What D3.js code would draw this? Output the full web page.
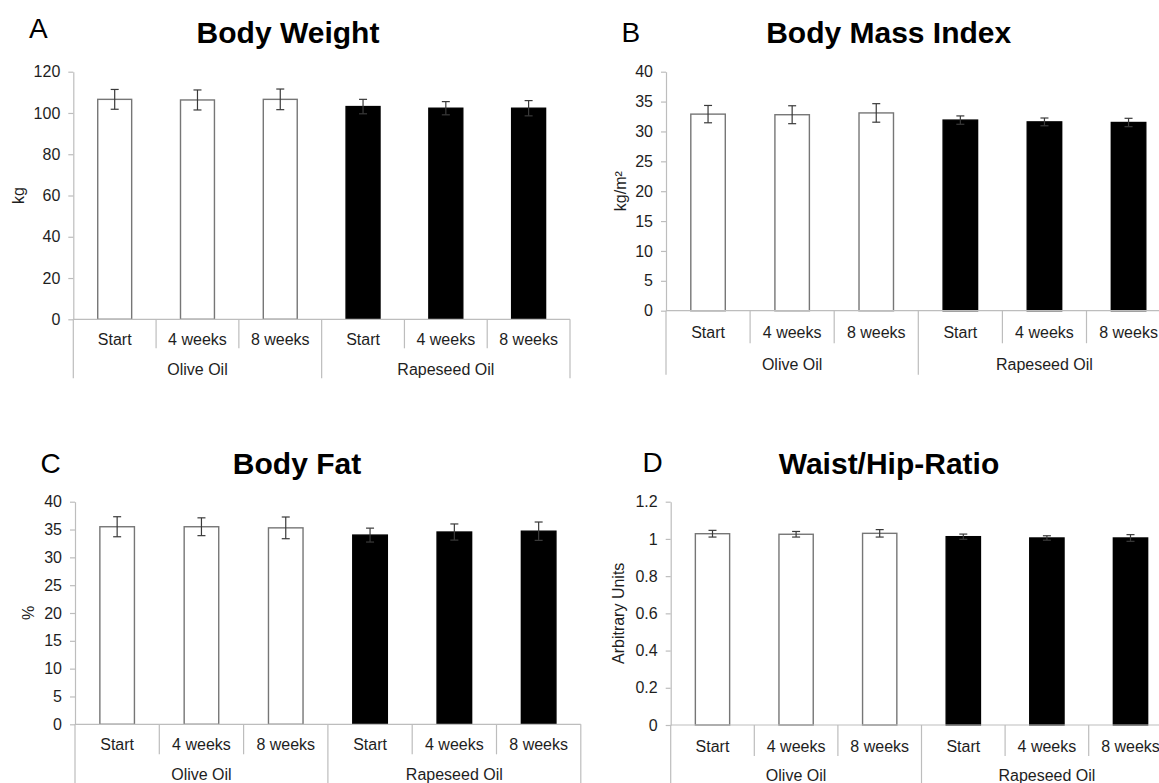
<!DOCTYPE html>
<html>
<head>
<meta charset="utf-8">
<script src="https://cdn.jsdelivr.net/npm/d3@7"></script>
<style>
  html, body { margin: 0; padding: 0; background: #fff; }
  svg { display: block; font-family: "Liberation Sans", Arial, Helvetica, sans-serif; }
</style>
</head>
<body>
<svg id="fig" width="1159" height="783"></svg>
<script>
// Groups and time points on the x axis
const groups = ["Olive Oil", "Rapeseed Oil"];
const timepoints = ["Start", "4 weeks", "8 weeks"];

// Body weight (kg): mean and SD per group/time point
const weightMean = [106.6, 106.3, 106.6, 103.1, 102.3, 102.3];
const weightSD   = [4.8, 4.85, 5.0, 3.5, 3.2, 3.7];
const weightTicks = [0, 20, 40, 60, 80, 100, 120];

// Body mass index (kg/m²)
const bmiMean = [32.9, 32.8, 33.1, 31.9, 31.6, 31.5];
const bmiSD   = [1.45, 1.5, 1.55, 0.7, 0.65, 0.7];
const bmiTicks = [0, 5, 10, 15, 20, 25, 30, 35, 40];

// Body fat (%)
const fatMean = [35.5, 35.5, 35.3, 34.0, 34.55, 34.7];
const fatSD   = [1.8, 1.6, 1.95, 1.25, 1.45, 1.65];
const fatTicks = [0, 5, 10, 15, 20, 25, 30, 35, 40];

// Waist/hip ratio (arbitrary units)
const whrMean = [1.028, 1.025, 1.030, 1.012, 1.005, 1.005];
const whrSD   = [0.018, 0.015, 0.02, 0.014, 0.012, 0.018];
const whrTicks = [0, 0.2, 0.4, 0.6, 0.8, 1, 1.2];

// One key per bar: group + time point
const keys = [];
groups.forEach(g => timepoints.forEach(t => keys.push({ key: g + "|" + t, group: g, time: t })));

const panels = [
  { letter: "A", title: "Body Weight", yLabel: "kg", mean: weightMean, sd: weightSD, ticks: weightTicks,
    left: 73.3, right: 570, top: 71.7, bottom: 319.3,
    titleX: 288, titleY: 43, letterX: 29, letterY: 38, yLabelX: 18,
    catOff: 26, grpOff: 56, sepLen: 29, grpLen: 59 },
  { letter: "B", title: "Body Mass Index", yLabel: "kg/m²", mean: bmiMean, sd: bmiSD, ticks: bmiTicks,
    left: 666, right: 1170.6, top: 71.7, bottom: 310.7,
    titleX: 888.7, titleY: 43, letterX: 621.5, letterY: 41.5, yLabelX: 620,
    catOff: 27.5, grpOff: 59.5, sepLen: 32.5, grpLen: 64 },
  { letter: "C", title: "Body Fat", yLabel: "%", mean: fatMean, sd: fatSD, ticks: fatTicks,
    left: 75, right: 580.8, top: 501.7, bottom: 724.3,
    titleX: 297, titleY: 473.5, letterX: 40.5, letterY: 472.5, yLabelX: 28.5,
    catOff: 26, grpOff: 55.5, sepLen: 30, grpLen: 60 },
  { letter: "D", title: "Waist/Hip-Ratio", yLabel: "Arbitrary Units", mean: whrMean, sd: whrSD, ticks: whrTicks,
    left: 670.7, right: 1172.3, top: 501.7, bottom: 725,
    titleX: 889, titleY: 474, letterX: 642.5, letterY: 471.5, yLabelX: 618.5,
    catOff: 26.5, grpOff: 55.5, sepLen: 31, grpLen: 60 }
];

const svg = d3.select("#fig");
const axisColor = "#bdbdbd";
const textColor = "#1e1e1e";
const fs = 16;

panels.forEach(p => {
  const g = svg.append("g");
  const yMax = d3.max(p.ticks);

  const x = d3.scaleBand().domain(keys.map(d => d.key)).range([p.left, p.right]).padding(0);
  const y = d3.scaleLinear().domain([0, yMax]).range([p.bottom, p.top]);
  const barW = x.bandwidth() * 0.41;

  // Panel letter and title
  g.append("text").attr("x", p.letterX).attr("y", p.letterY)
    .attr("font-size", 28).attr("fill", "#000").text(p.letter);
  g.append("text").attr("x", p.titleX).attr("y", p.titleY)
    .attr("text-anchor", "middle").attr("font-size", 30).attr("font-weight", "bold")
    .attr("fill", "#000").text(p.title);

  // Y axis
  const yAxis = d3.axisLeft(y).tickValues(p.ticks).tickSize(5).tickSizeOuter(0)
    .tickPadding(8).tickFormat(d3.format("~g"));
  const ya = g.append("g").attr("transform", `translate(${p.left},0)`).call(yAxis);
  ya.select(".domain").attr("stroke", axisColor).attr("stroke-width", 1.2);
  ya.selectAll(".tick line").attr("stroke", axisColor).attr("stroke-width", 1.2);
  ya.selectAll(".tick text").attr("font-size", fs).attr("fill", textColor)
    .attr("font-family", "'Liberation Sans', Arial, sans-serif");

  // Y axis title
  g.append("text")
    .attr("transform", `translate(${p.yLabelX},${(p.top + p.bottom) / 2}) rotate(-90)`)
    .attr("text-anchor", "middle").attr("dy", "0.35em")
    .attr("font-size", fs).attr("fill", textColor).text(p.yLabel);

  // Bars
  keys.forEach((k, i) => {
    const isOlive = k.group === groups[0];
    const cx = x(k.key) + x.bandwidth() / 2;
    g.append("rect")
      .attr("x", cx - barW / 2).attr("y", y(p.mean[i]))
      .attr("width", barW).attr("height", y(0) - y(p.mean[i]))
      .attr("fill", isOlive ? "#fff" : "#000")
      .attr("stroke", isOlive ? "#767676" : "#000").attr("stroke-width", 1.4);
  });

  // Error bars (mean ± SD)
  keys.forEach((k, i) => {
    const cx = x(k.key) + x.bandwidth() / 2;
    const hi = y(p.mean[i] + p.sd[i]), lo = y(p.mean[i] - p.sd[i]);
    const col = "#3a3a3a";
    g.append("line").attr("x1", cx).attr("x2", cx).attr("y1", hi).attr("y2", lo)
      .attr("stroke", col).attr("stroke-width", 1.2);
    [hi, lo].forEach(v => g.append("line")
      .attr("x1", cx - 4).attr("x2", cx + 4).attr("y1", v).attr("y2", v)
      .attr("stroke", col).attr("stroke-width", 1.2));
  });

  // X axis baseline
  g.append("line").attr("x1", p.left).attr("x2", p.right)
    .attr("y1", p.bottom).attr("y2", p.bottom)
    .attr("stroke", axisColor).attr("stroke-width", 1.2);

  // Category separators (short) and group separators (long)
  const bounds = keys.map(k => x(k.key)).concat([x(keys[keys.length - 1].key) + x.step()]);
  bounds.forEach((bx, i) => {
    const isGroupEdge = i % timepoints.length === 0;
    g.append("line").attr("x1", bx).attr("x2", bx)
      .attr("y1", p.bottom).attr("y2", p.bottom + (isGroupEdge ? p.grpLen : p.sepLen))
      .attr("stroke", axisColor).attr("stroke-width", 1.2);
  });

  // Time point labels
  keys.forEach(k => {
    g.append("text").attr("x", x(k.key) + x.bandwidth() / 2).attr("y", p.bottom + p.catOff)
      .attr("text-anchor", "middle").attr("font-size", fs).attr("fill", textColor).text(k.time);
  });

  // Group labels
  groups.forEach((grp, gi) => {
    const first = x(keys[gi * timepoints.length].key);
    const last = x(keys[gi * timepoints.length + timepoints.length - 1].key) + x.step();
    g.append("text").attr("x", (first + last) / 2).attr("y", p.bottom + p.grpOff)
      .attr("text-anchor", "middle").attr("font-size", fs).attr("fill", textColor).text(grp);
  });
});
</script>
</body>
</html>
